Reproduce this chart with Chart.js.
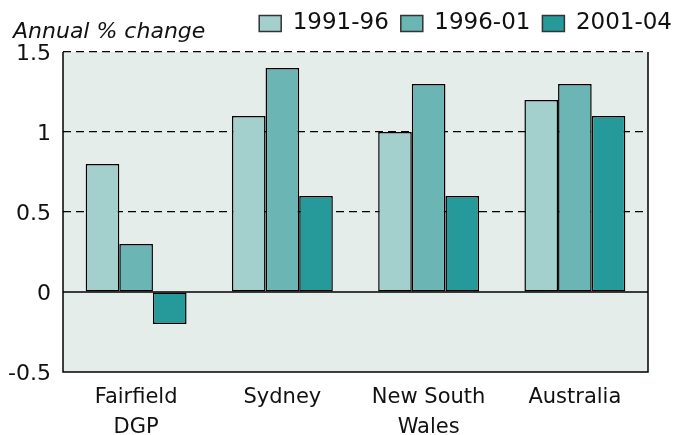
<!DOCTYPE html>
<html><head><meta charset="utf-8">
<script src="https://cdn.jsdelivr.net/npm/chart.js@4"></script>
<style>html,body{margin:0;padding:0;background:#fff}#w{width:673px;height:435px}</style>
</head><body><div id="w"><canvas id="c"></canvas></div>
<script>
const categories = [["Fairfield","DGP"],"Sydney",["New South","Wales"],"Australia"];
const seriesNames = ["1991-96","1996-01","2001-04"];
const s1991 = [0.8, 1.1, 1.0, 1.2];
const s1996 = [0.3, 1.4, 1.3, 1.3];
const s2001 = [-0.2, 0.6, 0.6, 1.1];
const yTicks = [-0.5, 0, 0.5, 1, 1.5];
const colors = ["#a3cfcc","#6bb5b5","#269a9a"];
const FONT = "'DejaVu Sans', sans-serif";

const layoutPlugin = {
  id:'fixLegend',
  beforeInit(chart){
    const lg = chart.legend;
    if (lg) {
      const fit = lg.fit;
      lg.fit = function(){ fit.call(this); this.height = 52; };
    }
  },
  afterLayout(chart){
    const lg = chart.legend;
    if (lg) { lg.left += 11; lg.right += 11; }
  }
};

const bgPlugin = {
  id:'bg',
  beforeDraw(chart){
    const {ctx, chartArea:a} = chart;
    ctx.save();
    ctx.fillStyle = '#e4edea';
    ctx.fillRect(a.left, a.top, a.right-a.left, a.bottom-a.top);
    ctx.restore();
  },
  afterDatasetsDraw(chart){
    const {ctx, chartArea:a, scales} = chart;
    ctx.save();
    ctx.strokeStyle = '#000';
    ctx.lineWidth = 1.5;
    const y0 = scales.y.getPixelForValue(0);
    ctx.beginPath(); ctx.moveTo(a.left, y0); ctx.lineTo(a.right, y0); ctx.stroke();
    ctx.beginPath();
    ctx.moveTo(a.left, a.top); ctx.lineTo(a.left, a.bottom); ctx.lineTo(a.right, a.bottom); ctx.lineTo(a.right, a.top);
    ctx.stroke();
    ctx.fillStyle = '#111';
    ctx.font = "italic 22px 'DejaVu Sans', sans-serif";
    ctx.textBaseline = 'alphabetic';
    ctx.fillText('Annual % change', 13, 38);
    ctx.restore();
  }
};

new Chart(document.getElementById('c'), {
  type:'bar',
  data:{
    labels: categories,
    datasets:[
      {label:seriesNames[0], data:s1991, backgroundColor:colors[0]},
      {label:seriesNames[1], data:s1996, backgroundColor:colors[1]},
      {label:seriesNames[2], data:s2001, backgroundColor:colors[2]}
    ].map(d=>Object.assign(d,{borderColor:'#000',borderWidth:1.5,borderSkipped:false,categoryPercentage:0.69,barPercentage:1}))
  },
  options:{
    responsive:true, maintainAspectRatio:false, animation:false,
    layout:{padding:{left:0,right:0,top:0,bottom:0}},
    plugins:{
      legend:{position:'top', align:'end',
        labels:{font:{family:FONT,size:23}, color:'#111', boxWidth:22, boxHeight:16, padding:12,
          generateLabels(chart){
            return chart.data.datasets.map((d,i)=>({text:d.label, fillStyle:d.backgroundColor, strokeStyle:'#333', lineWidth:1.5, datasetIndex:i, fontColor:'#111'}));
          }}},
      tooltip:{enabled:false}
    },
    scales:{
      x:{grid:{display:false, drawTicks:false}, border:{display:false},
        afterFit(ax){ ax.height = 63; },
        ticks:{font:{family:FONT,size:21,lineHeight:1.4}, color:'#111', padding:11, maxRotation:0}},
      y:{min:-0.5, max:1.5, afterBuildTicks(ax){ax.ticks = yTicks.map(v=>({value:v}));},
        afterFit(ax){ ax.width = 63; },
        border:{display:false, dash:[8,5]},
        grid:{color:(c)=> (c.tick && (c.tick.value===0.5||c.tick.value===1||c.tick.value===1.5)) ? '#000' : 'rgba(0,0,0,0)', lineWidth:1.2, drawTicks:false},
        ticks:{font:{family:FONT,size:22}, color:'#111', padding:12, labelOffset:2, callback:v=>String(v)}
      },
      y2:{position:'right', display:true, grid:{display:false, drawTicks:false}, border:{display:false},
        ticks:{display:false}, afterFit(ax){ ax.width = 25; }}
    }
  },
  plugins:[layoutPlugin, bgPlugin]
});
</script>
</body></html>
